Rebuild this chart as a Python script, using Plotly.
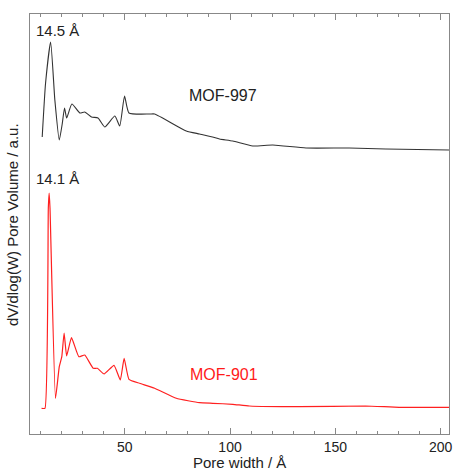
import plotly.graph_objects as go

# MOF-997 (black) curve: pore width (Å) vs dV/dlog(W) (a.u., offset)
mof997_x = [10.8, 12.4, 14.8, 16.8, 18.9, 20.3, 21.4, 22.4, 24.9, 28.7, 31.0, 34.2, 37.3, 40.5,
            45.3, 47.6, 49.9, 52.0, 61.8, 64.2, 79.2, 85.5, 91.7, 95.0, 101.3, 110.8, 120.3,
            136.1, 156.6, 174.0, 204.0]
mof997_y = [29.7, 35.1, 39.2, 33.4, 29.4, 31.0, 32.6, 31.6, 33.0, 32.1, 32.2, 31.7, 31.6, 30.7,
            31.8, 30.8, 33.8, 32.1, 32.0, 32.0, 30.3, 30.0, 29.7, 29.5, 29.3, 28.8, 28.9,
            28.6, 28.6, 28.5, 28.4]

# MOF-901 (red) curve
mof901_x = [10.5, 12.1, 13.7, 14.1, 14.5, 17.1, 18.9, 20.1, 21.2, 22.4, 24.7, 28.2, 31.0, 35.0,
            37.0, 40.2, 44.9, 47.9, 49.7, 52.0, 57.1, 64.2, 74.5, 85.5, 91.8, 101.3, 109.2,
            132.9, 164.4, 180.3, 204.0]
mof901_y = [2.57, 2.57, 22.6, 24.1, 22.6, 3.57, 6.73, 7.73, 10.1, 7.8, 9.63, 7.73, 7.9, 6.57,
            6.57, 6.0, 6.87, 5.4, 7.57, 5.47, 5.07, 4.57, 3.57, 3.13, 3.07, 2.97, 2.8,
            2.73, 2.8, 2.67, 2.67]

tick_vals = [50, 100, 150, 200]
tick_text = ["50", "100", "150", "200"]

font_family = "Liberation Sans, Arial, sans-serif"
text_color = "#222222"

fig = go.Figure()
fig.add_trace(go.Scatter(x=mof997_x, y=mof997_y, mode="lines",
                         line=dict(color="#333333", width=1.1, shape="spline", smoothing=0.5),
                         showlegend=False))
fig.add_trace(go.Scatter(x=mof901_x, y=mof901_y, mode="lines",
                         line=dict(color="#ff2020", width=1.2, shape="spline", smoothing=0.4),
                         showlegend=False))

annotations = [
    dict(text="14.5 Å", x=18.0, y=40.4, color=text_color, size=15),
    dict(text="14.1 Å", x=18.0, y=25.55, color=text_color, size=15),
    dict(text="MOF-997", x=96.7, y=33.9, color=text_color, size=16),
    dict(text="MOF-901", x=97.2, y=5.95, color="#ff1a1a", size=16),
]
for a in annotations:
    fig.add_annotation(x=a["x"], y=a["y"], xref="x", yref="y", text=a["text"],
                       showarrow=False, font=dict(size=a["size"], color=a["color"], family=font_family))

# axis titles as annotations for exact placement
fig.add_annotation(text="Pore width / Å", xref="paper", yref="paper", x=0.5, y=-0.068,
                   xanchor="center", yanchor="middle", showarrow=False,
                   font=dict(size=15, color=text_color, family=font_family))
fig.add_annotation(text="dV/dlog(W) Pore Volume / a.u.", xref="paper", yref="paper",
                   x=-0.043, y=0.5, textangle=-90, xanchor="center", yanchor="middle",
                   showarrow=False, font=dict(size=15, color=text_color, family=font_family))

fig.update_layout(
    width=457, height=472,
    margin=dict(l=30, r=8, t=14, b=38),
    plot_bgcolor="white", paper_bgcolor="white",
    font=dict(family=font_family, color=text_color, size=14),
    xaxis=dict(range=[5, 204], tickvals=tick_vals, ticktext=tick_text,
               ticks="inside", ticklen=6, tickcolor="#888888", tickwidth=1,
               minor=dict(dtick=10, tick0=0, ticks="inside", ticklen=3, tickcolor="#888888"),
               showline=True, linecolor="#888888", linewidth=1, mirror="ticks",
               showgrid=False, zeroline=False, automargin=False,
               tickfont=dict(size=14)),
    yaxis=dict(range=[0, 42], showticklabels=False, ticks="",
               showline=True, linecolor="#888888", linewidth=1, mirror=True,
               showgrid=False, zeroline=False, automargin=False),
)

fig.write_html("out.html", config={"displayModeBar": False},
               post_script="document.body.style.margin='0';document.body.style.overflow='hidden';")
